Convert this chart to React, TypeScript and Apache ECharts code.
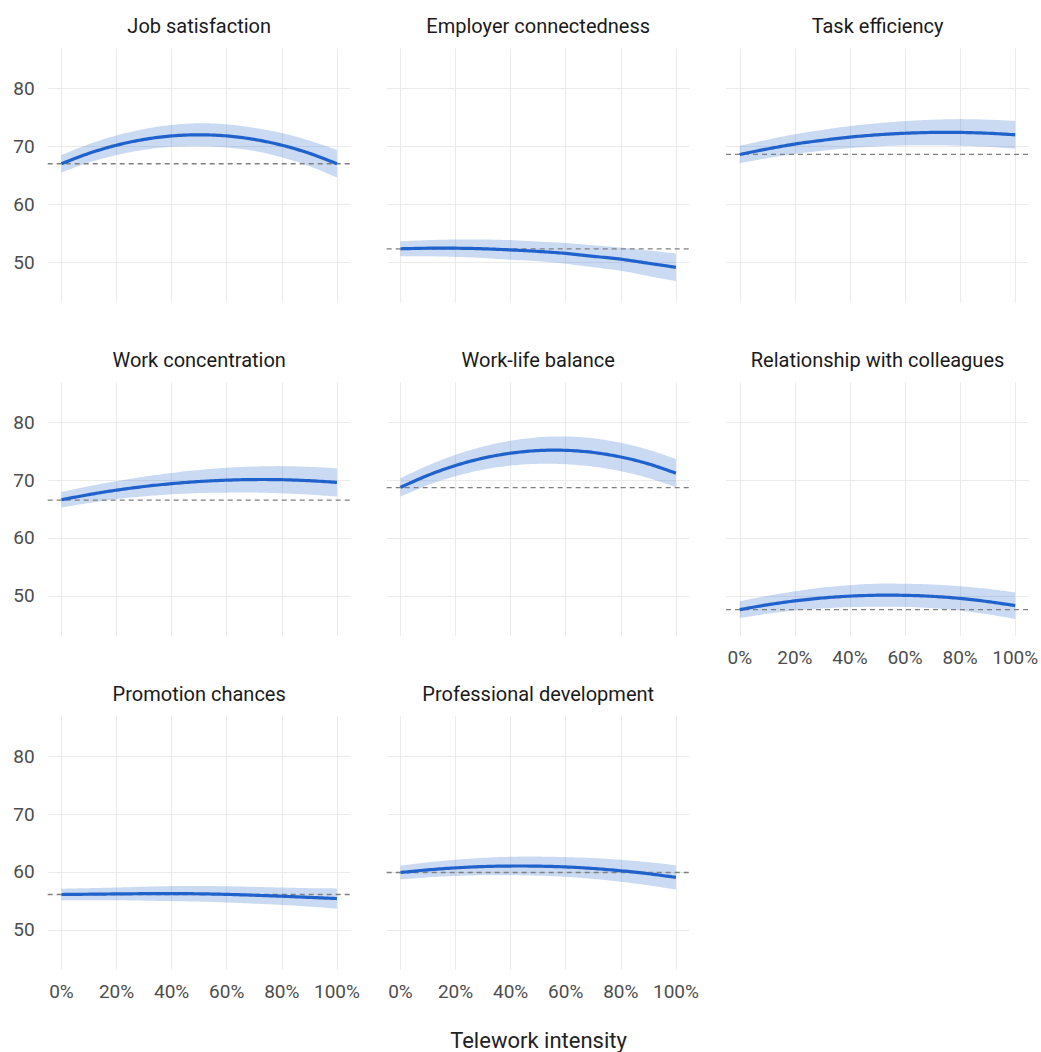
import React, { useEffect, useRef } from "react";
import * as echarts from "echarts";

const panelTitles = [
  "Job satisfaction",
  "Employer connectedness",
  "Task efficiency",
  "Work concentration",
  "Work-life balance",
  "Relationship with colleagues",
  "Promotion chances",
  "Professional development",
];

const xValues = [0, 0.1, 0.2, 0.3, 0.4, 0.5, 0.6, 0.7, 0.8, 0.9, 1];
const xTicks = [0, 0.2, 0.4, 0.6, 0.8, 1];
const yTicks = [50, 60, 70, 80];
const xAxisTitle = "Telework intensity";

// fitted curves
const jobFit = [67.0, 68.8, 70.2, 71.2, 71.8, 72.0, 71.8, 71.2, 70.2, 68.8, 67.0];
const jobLower = [65.5, 67.2, 68.5, 69.4, 69.9, 70.0, 69.8, 69.2, 68.1, 66.6, 64.6];
const jobUpper = [68.5, 70.4, 71.9, 73.0, 73.7, 74.0, 73.8, 73.2, 72.3, 71.0, 69.4];

const empFit = [52.3, 52.4, 52.4, 52.3, 52.1, 51.85, 51.5, 51.0, 50.5, 49.8, 49.1];
const empLower = [51.0, 51.0, 50.9, 50.7, 50.4, 50.15, 49.7, 49.1, 48.5, 47.6, 46.7];
const empUpper = [53.6, 53.8, 53.9, 53.9, 53.8, 53.55, 53.3, 52.9, 52.5, 52.0, 51.5];

const taskFit = [68.6, 69.55, 70.4, 71.05, 71.6, 72.0, 72.27, 72.41, 72.41, 72.27, 72.0];
const taskLower = [67.1, 67.95, 68.7, 69.25, 69.7, 70.0, 70.17, 70.21, 70.11, 69.92, 69.6];
const taskUpper = [70.1, 71.15, 72.1, 72.85, 73.5, 74.0, 74.37, 74.61, 74.71, 74.62, 74.4];

const concFit = [66.6, 67.49, 68.26, 68.89, 69.38, 69.75, 69.98, 70.09, 70.06, 69.89, 69.6];
const concLower = [65.25, 66.04, 66.71, 67.19, 67.53, 67.75, 67.83, 67.84, 67.71, 67.49, 67.15];
const concUpper = [67.95, 68.94, 69.81, 70.59, 71.23, 71.75, 72.13, 72.34, 72.41, 72.29, 72.05];

const wlbFit = [68.74, 70.83, 72.52, 73.79, 74.65, 75.1, 75.14, 74.77, 73.99, 72.8, 71.2];
const wlbLower = [67.14, 69.13, 70.67, 71.79, 72.5, 72.8, 72.74, 72.32, 71.54, 70.35, 68.75];
const wlbUpper = [70.34, 72.53, 74.37, 75.79, 76.8, 77.4, 77.54, 77.22, 76.44, 75.25, 73.65];

const relFit = [47.6, 48.44, 49.12, 49.62, 49.94, 50.1, 50.08, 49.9, 49.54, 49.0, 48.3];
const relLower = [46.15, 46.89, 47.47, 47.82, 48.04, 48.1, 48.08, 47.85, 47.44, 46.8, 46.0];
const relUpper = [49.05, 49.99, 50.77, 51.42, 51.84, 52.1, 52.08, 51.95, 51.64, 51.2, 50.6];

const promFit = [56.1, 56.15, 56.2, 56.24, 56.25, 56.22, 56.12, 55.97, 55.8, 55.6, 55.4];
const promLower = [55.1, 55.1, 55.1, 55.04, 54.95, 54.87, 54.72, 54.52, 54.3, 54.0, 53.65];
const promUpper = [57.1, 57.2, 57.3, 57.44, 57.55, 57.57, 57.52, 57.42, 57.3, 57.2, 57.15];

const devFit = [59.9, 60.36, 60.7, 60.93, 61.02, 61.0, 60.86, 60.59, 60.2, 59.69, 59.06];
const devLower = [58.7, 59.06, 59.3, 59.43, 59.42, 59.35, 59.16, 58.79, 58.3, 57.69, 56.96];
const devUpper = [61.1, 61.66, 62.1, 62.43, 62.62, 62.65, 62.56, 62.39, 62.1, 61.69, 61.16];

// baseline (no telework) reference values
const baselines = [67.0, 52.3, 68.6, 66.55, 68.7, 47.6, 56.1, 59.9];

const fits = [jobFit, empFit, taskFit, concFit, wlbFit, relFit, promFit, devFit];
const lowers = [jobLower, empLower, taskLower, concLower, wlbLower, relLower, promLower, devLower];
const uppers = [jobUpper, empUpper, taskUpper, concUpper, wlbUpper, relUpper, promUpper, devUpper];

const FONT = "Roboto";
const LINE_COLOR = "#1f62cc";
const BAND_COLOR = "rgba(33,102,204,0.24)";

// Catmull-Rom smoothing of pixel points (produced by the axis scales)
function smoothPts(pts: number[][]): number[][] {
  const out: number[][] = [];
  const n = pts.length;
  const steps = 12;
  for (let i = 0; i < n - 1; i++) {
    const p0 = pts[Math.max(0, i - 1)];
    const p1 = pts[i];
    const p2 = pts[i + 1];
    const p3 = pts[Math.min(n - 1, i + 2)];
    for (let s = 0; s < steps; s++) {
      const t = s / steps;
      const t2 = t * t;
      const t3 = t2 * t;
      const f = (a: number, b: number, c: number, d: number) =>
        0.5 * (2 * b + (-a + c) * t + (2 * a - 5 * b + 4 * c - d) * t2 + (-a + 3 * b - 3 * c + d) * t3);
      out.push([f(p0[0], p1[0], p2[0], p3[0]), f(p0[1], p1[1], p2[1], p3[1])]);
    }
  }
  out.push(pts[n - 1]);
  return out;
}

export default function App() {
  const ref = useRef<HTMLDivElement>(null);

  useEffect(() => {
    if (!ref.current) return;
    const chart = echarts.init(ref.current, undefined, { renderer: "svg" });

    const colLefts = [47.7, 386.7, 726];
    const rowTops = [48.3, 382, 716];
    const panelW = 303;
    const panelH = 254;

    const grids: any[] = [];
    const xAxes: any[] = [];
    const yAxes: any[] = [];
    const series: any[] = [];
    const graphics: any[] = [];

    panelTitles.forEach((title, i) => {
      const col = i % 3;
      const row = Math.floor(i / 3);
      const left = colLefts[col];
      const top = rowTops[row];
      grids.push({
        left,
        top,
        width: panelW,
        height: panelH,
        outerBoundsMode: "none",
        containLabel: false,
      });
      const showX = i >= 5;
      const showY = col === 0;
      xAxes.push({
        type: "value",
        gridIndex: i,
        min: -0.05,
        max: 1.05,
        axisLine: { show: false },
        axisTick: { show: false, customValues: xTicks },
        axisLabel: {
          show: showX,
          customValues: xTicks,
          formatter: (v: number) => Math.round(v * 100) + "%",
          fontFamily: FONT,
          fontSize: 19,
          color: "#4d4d4d",
          margin: 12,
        },
        splitLine: { show: true, lineStyle: { color: "#ebebeb", width: 1.1 } },
      });
      yAxes.push({
        type: "value",
        gridIndex: i,
        min: 43.05,
        max: 86.95,
        axisLine: { show: false },
        axisTick: { show: false, customValues: yTicks },
        axisLabel: {
          show: showY,
          customValues: yTicks,
          formatter: (v: number) => String(Math.round(v)),
          fontFamily: FONT,
          fontSize: 19,
          color: "#4d4d4d",
          margin: 13,
        },
        splitLine: { show: true, lineStyle: { color: "#ebebeb", width: 1.1 } },
      });

      const lower = lowers[i];
      const upper = uppers[i];
      const fit = fits[i];
      const base = baselines[i];

      series.push({
        type: "custom",
        name: title,
        coordinateSystem: "cartesian2d",
        xAxisIndex: i,
        yAxisIndex: i,
        data: [[0.5, fit[5]]],
        silent: true,
        z: 2,
        renderItem: (params: any, api: any) => {
          const up = xValues.map((x, k) => api.coord([x, upper[k]]));
          const lo = xValues.map((x, k) => api.coord([x, lower[k]]));
          const mid = xValues.map((x, k) => api.coord([x, fit[k]]));
          const bandPts = smoothPts(up).concat(smoothPts(lo).reverse());
          const b0 = api.coord([-0.05, base]);
          const b1 = api.coord([1.05, base]);
          return {
            type: "group",
            children: [
              {
                type: "polygon",
                shape: { points: bandPts },
                style: { fill: BAND_COLOR, stroke: "none" },
                silent: true,
              },
              {
                type: "line",
                shape: { x1: b0[0], y1: b0[1], x2: b1[0], y2: b1[1] },
                style: { stroke: "#808080", lineWidth: 1.3, lineDash: [5, 4], fill: "none" },
                silent: true,
              },
              {
                type: "polyline",
                shape: { points: smoothPts(mid) },
                style: { stroke: LINE_COLOR, lineWidth: 3.2, fill: "none", lineJoin: "round", lineCap: "butt" },
                silent: true,
              },
            ],
          };
        },
      });

      graphics.push({
        type: "text",
        x: left + panelW / 2,
        y: top - 22,
        style: {
          text: title,
          fontFamily: FONT,
          fontSize: 20,
          fill: "#1a1a1a",
          align: "center",
          verticalAlign: "middle",
          textAlign: "center",
          textVerticalAlign: "middle",
        },
      });
    });

    graphics.push({
      type: "text",
      x: 538.5,
      y: 1040,
      style: {
        text: xAxisTitle,
        fontFamily: FONT,
        fontSize: 22,
        fill: "#222222",
        align: "center",
        verticalAlign: "middle",
        textAlign: "center",
        textVerticalAlign: "middle",
      },
    });

    chart.setOption({
      animation: false,
      backgroundColor: "#ffffff",
      grid: grids,
      xAxis: xAxes,
      yAxis: yAxes,
      series,
      graphic: graphics,
    });

    return () => chart.dispose();
  }, []);

  return (
    <div
      ref={ref}
      style={{ position: "absolute", left: 0, top: 0, width: 1041, height: 1052 }}
    />
  );
}
